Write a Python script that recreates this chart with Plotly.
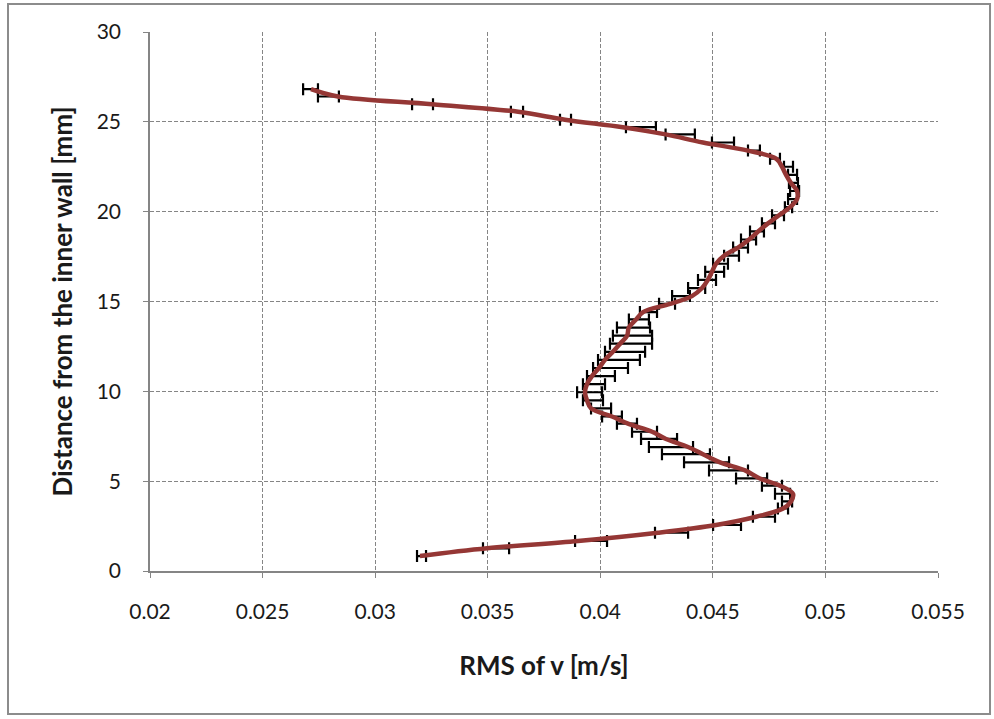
import plotly.graph_objects as go

# Distance from the inner wall [mm]
distance = [0.83, 1.26, 1.67, 2.13, 2.56, 3.02, 3.48, 3.87, 4.30, 4.75,
            5.15, 5.60, 6.05, 6.50, 6.90, 7.35, 7.75, 8.20, 8.60, 9.05,
            9.50, 9.95, 10.40, 10.85, 11.30, 11.75, 12.20, 12.65, 13.10, 13.55,
            14.00, 14.41, 14.87, 15.30, 15.75, 16.20, 16.65, 17.10, 17.55, 18.00,
            18.45, 18.90, 19.35, 19.80, 20.25, 20.70, 21.15, 21.60, 22.05, 22.50,
            22.95, 23.40, 23.85, 24.30, 24.70, 25.12, 25.56, 25.98, 26.41, 26.82]

# RMS of v [m/s] (smoothed profile)
rms_v = [0.03199, 0.03497, 0.03901, 0.04256, 0.04514, 0.04692, 0.04812, 0.04847, 0.04856, 0.04798,
         0.04709, 0.04643, 0.04532, 0.04456, 0.04390, 0.04292, 0.04230, 0.04123, 0.04052, 0.03959,
         0.03941, 0.03932, 0.03941, 0.03963, 0.03994, 0.04021, 0.04056, 0.04088, 0.04119, 0.04127,
         0.04159, 0.04190, 0.04310, 0.04407, 0.04452, 0.04478, 0.04496, 0.04514, 0.04550, 0.04612,
         0.04661, 0.04701, 0.04745, 0.04794, 0.04843, 0.04874, 0.04874, 0.04847, 0.04825, 0.04807,
         0.04781, 0.04656, 0.04456, 0.04290, 0.04100, 0.03843, 0.03635, 0.03253, 0.02835, 0.02715]

# Uncertainty interval: lower and upper bound [m/s]
rms_low = [0.03186, 0.03479, 0.03888, 0.04243, 0.04501, 0.04678, 0.04789, 0.04807, 0.04776, 0.04718,
           0.04603, 0.04483, 0.04372, 0.04274, 0.04216, 0.04181, 0.04141, 0.04074, 0.04008, 0.03959,
           0.03923, 0.03897, 0.03923, 0.03941, 0.03968, 0.03990, 0.04021, 0.04043, 0.04056, 0.04074,
           0.04127, 0.04176, 0.04261, 0.04319, 0.04390, 0.04434, 0.04466, 0.04501, 0.04550, 0.04590,
           0.04625, 0.04665, 0.04718, 0.04763, 0.04820, 0.04834, 0.04843, 0.04838, 0.04834, 0.04816,
           0.04754, 0.04656, 0.04496, 0.04290, 0.04114, 0.03821, 0.03603, 0.03164, 0.02746, 0.02680]
rms_high = [0.03226, 0.03595, 0.04030, 0.04390, 0.04625, 0.04776, 0.04834, 0.04852, 0.04843, 0.04807,
            0.04741, 0.04656, 0.04572, 0.04487, 0.04412, 0.04341, 0.04252, 0.04163, 0.04096, 0.04048,
            0.04012, 0.04008, 0.04021, 0.04065, 0.04123, 0.04176, 0.04199, 0.04230, 0.04230, 0.04221,
            0.04216, 0.04252, 0.04332, 0.04398, 0.04466, 0.04514, 0.04550, 0.04567, 0.04616, 0.04656,
            0.04692, 0.04727, 0.04776, 0.04816, 0.04852, 0.04874, 0.04883, 0.04878, 0.04874, 0.04856,
            0.04798, 0.04709, 0.04594, 0.04420, 0.04247, 0.03870, 0.03657, 0.03257, 0.02839, 0.02746]

x_ticks = [0.02, 0.025, 0.03, 0.035, 0.04, 0.045, 0.05, 0.055]
y_ticks = [0, 5, 10, 15, 20, 25, 30]

bar_mid = [(lo + hi) / 2 for lo, hi in zip(rms_low, rms_high)]
bar_half = [(hi - lo) / 2 for lo, hi in zip(rms_low, rms_high)]

GRID = "#858585"
FONT = "Lato, 'Open Sans', sans-serif"
TEXT = "#1a1a1a"

fig = go.Figure()

# error bars first, so the profile line sits on top
fig.add_trace(go.Scatter(
    x=bar_mid, y=distance, mode="markers",
    marker=dict(size=1, opacity=0),
    error_x=dict(type="data", array=bar_half, symmetric=True,
                 color="black", thickness=2.2, width=6),
    hoverinfo="skip", showlegend=False,
))

fig.add_trace(go.Scatter(
    x=rms_v, y=distance, mode="lines",
    line=dict(color="#953735", width=4.5, shape="spline", smoothing=1.0),
    showlegend=False,
))

fig.update_xaxes(
    range=[0.02, 0.055], tickvals=x_ticks, ticktext=[f"{v:g}" for v in x_ticks],
    showgrid=True, gridcolor=GRID, griddash="4px,2px", gridwidth=1,
    showline=True, linecolor=GRID, linewidth=1.5, zeroline=False,
    ticks="outside", ticklen=5, tickcolor=GRID, ticklabelstandoff=16,
    tickfont=dict(family=FONT, size=21, color=TEXT),
    title=dict(text="<b>RMS of v [m/s]</b>", font=dict(family=FONT, size=26, color=TEXT),
               standoff=35),
)
fig.update_yaxes(
    range=[0, 30], tickvals=y_ticks,
    showgrid=True, gridcolor=GRID, griddash="4px,2px", gridwidth=1,
    showline=True, linecolor=GRID, linewidth=1.5, zeroline=False,
    ticks="outside", ticklen=5, tickcolor=GRID, ticklabelstandoff=18,
    tickfont=dict(family=FONT, size=21, color=TEXT),
    title=dict(text="<b>Distance from the inner wall [mm]</b>",
               font=dict(family=FONT, size=26, color=TEXT), standoff=17),
)

# chart frame around the whole figure
fig.add_shape(type="rect", xref="paper", yref="paper",
              x0=-0.1802, x1=1.066, y0=-0.2653, y1=1.052,
              line=dict(color="#8c8c8c", width=2), layer="below")

fig.update_layout(
    width=994, height=719,
    margin=dict(l=150, r=56, t=32, b=148),
    paper_bgcolor="white", plot_bgcolor="white",
)

fig.write_html("out.html")
